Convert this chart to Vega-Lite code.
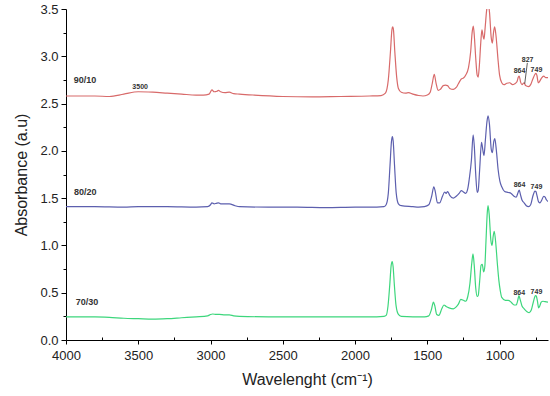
{
  "$schema": "https://vega.github.io/schema/vega-lite/v6.json",
  "autosize": {"type": "none"},
  "padding": {"left": 66, "right": 2, "top": 9, "bottom": 56},
  "width": 482,
  "height": 331,
  "background": "white",
  "config": {
    "view": {"stroke": null},
    "font": "Liberation Sans",
    "axis": {"grid": false, "ticks": true, "tickWidth": 1, "tickOpacity": 1, "domainColor": "#000", "domainWidth": 1, "tickColor": "#000", "labelColor": "#222", "titleColor": "#222", "labelFont": "Liberation Sans", "titleFont": "Liberation Sans", "titleFontWeight": "normal", "labelFontSize": 13, "titleFontSize": 16, "labelOverlap": false, "labelFlush": false}
  },
  "resolve": {"axis": {"x": "independent", "y": "independent"}},
  "datasets": {
    "spec": [
      {"s":"90/10","x":4000,"y":2.58},{"s":"90/10","x":3900,"y":2.58},{"s":"90/10","x":3800,"y":2.58},{"s":"90/10","x":3700,"y":2.575},{"s":"90/10","x":3600,"y":2.6},{"s":"90/10","x":3500,"y":2.625},{"s":"90/10","x":3400,"y":2.62},{"s":"90/10","x":3300,"y":2.61},{"s":"90/10","x":3200,"y":2.6},{"s":"90/10","x":3100,"y":2.59},{"s":"90/10","x":3050,"y":2.59},{"s":"90/10","x":3010,"y":2.6},{"s":"90/10","x":2990,"y":2.645},{"s":"90/10","x":2975,"y":2.625},{"s":"90/10","x":2955,"y":2.63},{"s":"90/10","x":2945,"y":2.64},{"s":"90/10","x":2930,"y":2.625},{"s":"90/10","x":2900,"y":2.615},{"s":"90/10","x":2870,"y":2.62},{"s":"90/10","x":2840,"y":2.605},{"s":"90/10","x":2800,"y":2.6},{"s":"90/10","x":2700,"y":2.59},{"s":"90/10","x":2500,"y":2.575},{"s":"90/10","x":2300,"y":2.57},{"s":"90/10","x":2100,"y":2.575},{"s":"90/10","x":1900,"y":2.58},{"s":"90/10","x":1820,"y":2.585},{"s":"90/10","x":1790,"y":2.61},{"s":"90/10","x":1770,"y":2.75},{"s":"90/10","x":1755,"y":3.05},{"s":"90/10","x":1745,"y":3.28},{"s":"90/10","x":1740,"y":3.31},{"s":"90/10","x":1735,"y":3.29},{"s":"90/10","x":1725,"y":3.05},{"s":"90/10","x":1712,"y":2.78},{"s":"90/10","x":1700,"y":2.66},{"s":"90/10","x":1680,"y":2.62},{"s":"90/10","x":1650,"y":2.61},{"s":"90/10","x":1630,"y":2.615},{"s":"90/10","x":1600,"y":2.6},{"s":"90/10","x":1560,"y":2.585},{"s":"90/10","x":1530,"y":2.58},{"s":"90/10","x":1500,"y":2.59},{"s":"90/10","x":1480,"y":2.62},{"s":"90/10","x":1465,"y":2.72},{"s":"90/10","x":1452,"y":2.81},{"s":"90/10","x":1440,"y":2.72},{"s":"90/10","x":1425,"y":2.64},{"s":"90/10","x":1410,"y":2.65},{"s":"90/10","x":1390,"y":2.69},{"s":"90/10","x":1375,"y":2.695},{"s":"90/10","x":1360,"y":2.69},{"s":"90/10","x":1345,"y":2.66},{"s":"90/10","x":1320,"y":2.65},{"s":"90/10","x":1300,"y":2.67},{"s":"90/10","x":1285,"y":2.71},{"s":"90/10","x":1265,"y":2.76},{"s":"90/10","x":1250,"y":2.77},{"s":"90/10","x":1235,"y":2.8},{"s":"90/10","x":1215,"y":2.88},{"s":"90/10","x":1200,"y":3.05},{"s":"90/10","x":1190,"y":3.25},{"s":"90/10","x":1182,"y":3.32},{"s":"90/10","x":1175,"y":3.22},{"s":"90/10","x":1165,"y":2.98},{"s":"90/10","x":1155,"y":2.8},{"s":"90/10","x":1148,"y":2.78},{"s":"90/10","x":1140,"y":2.9},{"s":"90/10","x":1130,"y":3.15},{"s":"90/10","x":1122,"y":3.28},{"s":"90/10","x":1115,"y":3.22},{"s":"90/10","x":1108,"y":3.18},{"s":"90/10","x":1100,"y":3.3},{"s":"90/10","x":1090,"y":3.48},{"s":"90/10","x":1080,"y":3.55},{"s":"90/10","x":1070,"y":3.47},{"s":"90/10","x":1058,"y":3.2},{"s":"90/10","x":1050,"y":3.14},{"s":"90/10","x":1042,"y":3.25},{"s":"90/10","x":1034,"y":3.31},{"s":"90/10","x":1025,"y":3.22},{"s":"90/10","x":1010,"y":2.95},{"s":"90/10","x":1000,"y":2.8},{"s":"90/10","x":985,"y":2.72},{"s":"90/10","x":970,"y":2.7},{"s":"90/10","x":950,"y":2.715},{"s":"90/10","x":930,"y":2.72},{"s":"90/10","x":910,"y":2.7},{"s":"90/10","x":895,"y":2.71},{"s":"90/10","x":880,"y":2.73},{"s":"90/10","x":870,"y":2.78},{"s":"90/10","x":864,"y":2.79},{"s":"90/10","x":855,"y":2.73},{"s":"90/10","x":845,"y":2.7},{"s":"90/10","x":830,"y":2.72},{"s":"90/10","x":820,"y":2.69},{"s":"90/10","x":800,"y":2.68},{"s":"90/10","x":785,"y":2.7},{"s":"90/10","x":770,"y":2.76},{"s":"90/10","x":755,"y":2.81},{"s":"90/10","x":749,"y":2.82},{"s":"90/10","x":742,"y":2.8},{"s":"90/10","x":732,"y":2.72},{"s":"90/10","x":725,"y":2.73},{"s":"90/10","x":710,"y":2.77},{"s":"90/10","x":695,"y":2.79},{"s":"90/10","x":680,"y":2.775},{"s":"90/10","x":665,"y":2.775},

      {"s":"80/20","x":4000,"y":1.41},{"s":"80/20","x":3800,"y":1.41},{"s":"80/20","x":3600,"y":1.405},{"s":"80/20","x":3500,"y":1.41},{"s":"80/20","x":3300,"y":1.41},{"s":"80/20","x":3100,"y":1.405},{"s":"80/20","x":3020,"y":1.41},{"s":"80/20","x":3000,"y":1.43},{"s":"80/20","x":2990,"y":1.45},{"s":"80/20","x":2975,"y":1.44},{"s":"80/20","x":2960,"y":1.445},{"s":"80/20","x":2945,"y":1.45},{"s":"80/20","x":2930,"y":1.44},{"s":"80/20","x":2900,"y":1.44},{"s":"80/20","x":2870,"y":1.44},{"s":"80/20","x":2830,"y":1.42},{"s":"80/20","x":2800,"y":1.41},{"s":"80/20","x":2600,"y":1.405},{"s":"80/20","x":2400,"y":1.405},{"s":"80/20","x":2200,"y":1.4},{"s":"80/20","x":2000,"y":1.405},{"s":"80/20","x":1850,"y":1.405},{"s":"80/20","x":1800,"y":1.41},{"s":"80/20","x":1785,"y":1.43},{"s":"80/20","x":1770,"y":1.55},{"s":"80/20","x":1758,"y":1.85},{"s":"80/20","x":1748,"y":2.1},{"s":"80/20","x":1742,"y":2.15},{"s":"80/20","x":1736,"y":2.1},{"s":"80/20","x":1727,"y":1.85},{"s":"80/20","x":1715,"y":1.55},{"s":"80/20","x":1700,"y":1.44},{"s":"80/20","x":1680,"y":1.42},{"s":"80/20","x":1600,"y":1.41},{"s":"80/20","x":1560,"y":1.405},{"s":"80/20","x":1520,"y":1.41},{"s":"80/20","x":1490,"y":1.43},{"s":"80/20","x":1470,"y":1.52},{"s":"80/20","x":1455,"y":1.62},{"s":"80/20","x":1445,"y":1.57},{"s":"80/20","x":1430,"y":1.45},{"s":"80/20","x":1415,"y":1.45},{"s":"80/20","x":1395,"y":1.52},{"s":"80/20","x":1380,"y":1.565},{"s":"80/20","x":1370,"y":1.55},{"s":"80/20","x":1360,"y":1.57},{"s":"80/20","x":1345,"y":1.53},{"s":"80/20","x":1320,"y":1.5},{"s":"80/20","x":1300,"y":1.52},{"s":"80/20","x":1280,"y":1.55},{"s":"80/20","x":1265,"y":1.58},{"s":"80/20","x":1250,"y":1.565},{"s":"80/20","x":1235,"y":1.55},{"s":"80/20","x":1220,"y":1.6},{"s":"80/20","x":1210,"y":1.7},{"s":"80/20","x":1195,"y":1.9},{"s":"80/20","x":1183,"y":2.17},{"s":"80/20","x":1175,"y":2.05},{"s":"80/20","x":1165,"y":1.75},{"s":"80/20","x":1155,"y":1.56},{"s":"80/20","x":1148,"y":1.58},{"s":"80/20","x":1138,"y":1.8},{"s":"80/20","x":1125,"y":2.09},{"s":"80/20","x":1115,"y":2.0},{"s":"80/20","x":1108,"y":1.95},{"s":"80/20","x":1098,"y":2.12},{"s":"80/20","x":1088,"y":2.3},{"s":"80/20","x":1080,"y":2.37},{"s":"80/20","x":1070,"y":2.28},{"s":"80/20","x":1058,"y":2.02},{"s":"80/20","x":1050,"y":1.98},{"s":"80/20","x":1040,"y":2.1},{"s":"80/20","x":1033,"y":2.13},{"s":"80/20","x":1022,"y":2.0},{"s":"80/20","x":1010,"y":1.8},{"s":"80/20","x":998,"y":1.68},{"s":"80/20","x":985,"y":1.62},{"s":"80/20","x":965,"y":1.57},{"s":"80/20","x":940,"y":1.56},{"s":"80/20","x":920,"y":1.55},{"s":"80/20","x":900,"y":1.52},{"s":"80/20","x":885,"y":1.51},{"s":"80/20","x":872,"y":1.56},{"s":"80/20","x":864,"y":1.585},{"s":"80/20","x":856,"y":1.54},{"s":"80/20","x":845,"y":1.48},{"s":"80/20","x":830,"y":1.45},{"s":"80/20","x":815,"y":1.42},{"s":"80/20","x":800,"y":1.41},{"s":"80/20","x":785,"y":1.43},{"s":"80/20","x":770,"y":1.52},{"s":"80/20","x":755,"y":1.575},{"s":"80/20","x":749,"y":1.57},{"s":"80/20","x":740,"y":1.52},{"s":"80/20","x":730,"y":1.46},{"s":"80/20","x":720,"y":1.45},{"s":"80/20","x":708,"y":1.48},{"s":"80/20","x":695,"y":1.52},{"s":"80/20","x":685,"y":1.51},{"s":"80/20","x":675,"y":1.48},{"s":"80/20","x":665,"y":1.465},

      {"s":"70/30","x":4000,"y":0.245},{"s":"70/30","x":3800,"y":0.245},{"s":"70/30","x":3700,"y":0.24},{"s":"70/30","x":3600,"y":0.23},{"s":"70/30","x":3500,"y":0.225},{"s":"70/30","x":3400,"y":0.22},{"s":"70/30","x":3300,"y":0.225},{"s":"70/30","x":3200,"y":0.235},{"s":"70/30","x":3100,"y":0.245},{"s":"70/30","x":3020,"y":0.255},{"s":"70/30","x":3000,"y":0.27},{"s":"70/30","x":2985,"y":0.275},{"s":"70/30","x":2960,"y":0.27},{"s":"70/30","x":2940,"y":0.272},{"s":"70/30","x":2900,"y":0.265},{"s":"70/30","x":2870,"y":0.265},{"s":"70/30","x":2840,"y":0.255},{"s":"70/30","x":2800,"y":0.25},{"s":"70/30","x":2600,"y":0.245},{"s":"70/30","x":2400,"y":0.245},{"s":"70/30","x":2200,"y":0.245},{"s":"70/30","x":2000,"y":0.245},{"s":"70/30","x":1850,"y":0.245},{"s":"70/30","x":1800,"y":0.25},{"s":"70/30","x":1785,"y":0.26},{"s":"70/30","x":1772,"y":0.36},{"s":"70/30","x":1760,"y":0.58},{"s":"70/30","x":1750,"y":0.79},{"s":"70/30","x":1743,"y":0.83},{"s":"70/30","x":1737,"y":0.78},{"s":"70/30","x":1728,"y":0.58},{"s":"70/30","x":1716,"y":0.36},{"s":"70/30","x":1700,"y":0.27},{"s":"70/30","x":1680,"y":0.25},{"s":"70/30","x":1600,"y":0.245},{"s":"70/30","x":1520,"y":0.245},{"s":"70/30","x":1490,"y":0.255},{"s":"70/30","x":1472,"y":0.32},{"s":"70/30","x":1458,"y":0.4},{"s":"70/30","x":1448,"y":0.36},{"s":"70/30","x":1435,"y":0.27},{"s":"70/30","x":1420,"y":0.26},{"s":"70/30","x":1400,"y":0.33},{"s":"70/30","x":1385,"y":0.37},{"s":"70/30","x":1370,"y":0.355},{"s":"70/30","x":1350,"y":0.34},{"s":"70/30","x":1320,"y":0.33},{"s":"70/30","x":1300,"y":0.35},{"s":"70/30","x":1285,"y":0.38},{"s":"70/30","x":1268,"y":0.43},{"s":"70/30","x":1250,"y":0.42},{"s":"70/30","x":1235,"y":0.41},{"s":"70/30","x":1220,"y":0.46},{"s":"70/30","x":1205,"y":0.6},{"s":"70/30","x":1192,"y":0.82},{"s":"70/30","x":1184,"y":0.91},{"s":"70/30","x":1176,"y":0.8},{"s":"70/30","x":1165,"y":0.55},{"s":"70/30","x":1155,"y":0.46},{"s":"70/30","x":1148,"y":0.47},{"s":"70/30","x":1138,"y":0.62},{"s":"70/30","x":1128,"y":0.79},{"s":"70/30","x":1120,"y":0.8},{"s":"70/30","x":1110,"y":0.72},{"s":"70/30","x":1102,"y":0.78},{"s":"70/30","x":1094,"y":1.05},{"s":"70/30","x":1085,"y":1.35},{"s":"70/30","x":1080,"y":1.42},{"s":"70/30","x":1072,"y":1.33},{"s":"70/30","x":1060,"y":1.05},{"s":"70/30","x":1052,"y":1.0},{"s":"70/30","x":1044,"y":1.1},{"s":"70/30","x":1037,"y":1.15},{"s":"70/30","x":1028,"y":1.05},{"s":"70/30","x":1015,"y":0.8},{"s":"70/30","x":1005,"y":0.63},{"s":"70/30","x":995,"y":0.52},{"s":"70/30","x":985,"y":0.45},{"s":"70/30","x":960,"y":0.42},{"s":"70/30","x":940,"y":0.42},{"s":"70/30","x":920,"y":0.4},{"s":"70/30","x":900,"y":0.37},{"s":"70/30","x":885,"y":0.37},{"s":"70/30","x":874,"y":0.42},{"s":"70/30","x":866,"y":0.47},{"s":"70/30","x":858,"y":0.43},{"s":"70/30","x":845,"y":0.36},{"s":"70/30","x":830,"y":0.33},{"s":"70/30","x":810,"y":0.3},{"s":"70/30","x":795,"y":0.29},{"s":"70/30","x":780,"y":0.32},{"s":"70/30","x":765,"y":0.41},{"s":"70/30","x":752,"y":0.47},{"s":"70/30","x":746,"y":0.465},{"s":"70/30","x":738,"y":0.41},{"s":"70/30","x":730,"y":0.34},{"s":"70/30","x":722,"y":0.36},{"s":"70/30","x":712,"y":0.4},{"s":"70/30","x":700,"y":0.41},{"s":"70/30","x":685,"y":0.405},{"s":"70/30","x":665,"y":0.4}
    ],
    "samples": [
      {"x":3947,"y":2.75,"t":"90/10"},
      {"x":3945,"y":1.56,"t":"80/20"},
      {"x":3933,"y":0.405,"t":"70/30"}
    ],
    "peaks": [
      {"x":3487,"y":2.67,"t":"3500"},
      {"x":862,"y":2.84,"t":"864"},
      {"x":806,"y":2.96,"t":"827"},
      {"x":745,"y":2.855,"t":"749"},
      {"x":862,"y":1.635,"t":"864"},
      {"x":745,"y":1.615,"t":"749"},
      {"x":864,"y":0.493,"t":"864"},
      {"x":745,"y":0.504,"t":"749"}
    ],
    "leader": [
      {"x":808,"y":2.93,"x2":826,"y2":2.71}
    ]
  },
  "layer": [
    {
      "data": {"name": "spec"},
      "mark": {"type": "line", "strokeWidth": 1.2, "interpolate": "monotone", "clip": true},
      "encoding": {
        "x": {"field": "x", "type": "quantitative",
          "scale": {"domain": [4000, 665], "nice": false, "zero": false},
          "axis": {"orient": "bottom", "title": "Wavelenght (cm⁻¹)", "values": [4000,3500,3000,2500,2000,1500,1000],
            "format": "d", "ticks": true, "tickSize": 4, "labelPadding": 5, "titlePadding": 9}},
        "y": {"field": "y", "type": "quantitative",
          "scale": {"domain": [0, 3.5], "nice": false},
          "axis": {"orient": "left", "title": "Absorbance (a.u)", "values": [0,0.5,1,1.5,2,2.5,3,3.5],
            "format": ".1f", "ticks": true, "tickSize": 5, "labelPadding": 3, "titlePadding": 10}},
        "color": {"field": "s", "type": "nominal",
          "scale": {"domain": ["90/10","80/20","70/30"], "range": ["#d86a6a","#5c5fae","#3dd67c"]},
          "legend": null},
        "detail": {"field": "s"}
      }
    },
    {
      "data": {"name": "samples"},
      "mark": {"type": "text", "align": "left", "baseline": "middle", "fontSize": 9, "fontWeight": "bold", "color": "#333", "font": "Liberation Sans"},
      "encoding": {
        "x": {"field": "x", "type": "quantitative",
          "axis": {"orient": "bottom", "values": [3750,3250,2750,2250,1750,1250,750], "ticks": true, "tickSize": -3, "labels": false, "domain": false, "title": null}},
        "y": {"field": "y", "type": "quantitative",
          "axis": {"orient": "left", "values": [0.25,0.75,1.25,1.75,2.25,2.75,3.25], "ticks": true, "tickSize": 3, "labels": false, "domain": false, "title": null}},
        "text": {"field": "t"}
      }
    },
    {
      "data": {"name": "peaks"},
      "mark": {"type": "text", "align": "center", "baseline": "middle", "fontSize": 7, "fontWeight": "bold", "color": "#333", "font": "Liberation Sans"},
      "encoding": {
        "x": {"field": "x", "type": "quantitative", "axis": null},
        "y": {"field": "y", "type": "quantitative", "axis": null},
        "text": {"field": "t"}
      }
    },
    {
      "data": {"name": "leader"},
      "mark": {"type": "rule", "color": "#333", "strokeWidth": 0.8},
      "encoding": {
        "x": {"field": "x", "type": "quantitative", "axis": null},
        "y": {"field": "y", "type": "quantitative", "axis": null},
        "x2": {"field": "x2"},
        "y2": {"field": "y2"}
      }
    }
  ]
}
